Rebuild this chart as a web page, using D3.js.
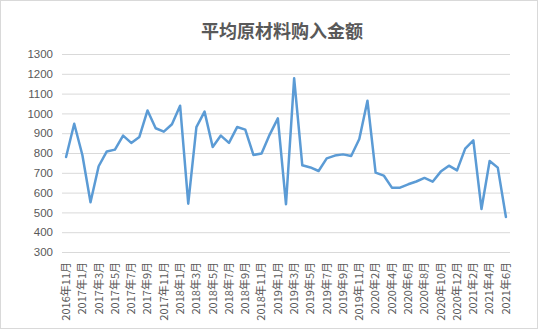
<!DOCTYPE html>
<html>
<head>
<meta charset="utf-8">
<script src="https://cdn.jsdelivr.net/npm/d3@7"></script>
<style>
  body { margin: 0; background: #fff; }
</style>
</head>
<body>
<div id="chart"></div>
<script>
// months shown on the category axis (2020年1月 is missing in the source)
const months = [
  "2016年11月", "2016年12月",
  "2017年1月", "2017年2月", "2017年3月", "2017年4月", "2017年5月", "2017年6月",
  "2017年7月", "2017年8月", "2017年9月", "2017年10月", "2017年11月", "2017年12月",
  "2018年1月", "2018年2月", "2018年3月", "2018年4月", "2018年5月", "2018年6月",
  "2018年7月", "2018年8月", "2018年9月", "2018年10月", "2018年11月", "2018年12月",
  "2019年1月", "2019年2月", "2019年3月", "2019年4月", "2019年5月", "2019年6月",
  "2019年7月", "2019年8月", "2019年9月", "2019年10月", "2019年11月", "2019年12月",
  "2020年2月", "2020年3月", "2020年4月", "2020年5月", "2020年6月", "2020年7月",
  "2020年8月", "2020年9月", "2020年10月", "2020年11月", "2020年12月",
  "2021年1月", "2021年2月", "2021年3月", "2021年4月", "2021年5月", "2021年6月"
];

const amounts = [
  780, 948,
  790, 551, 733, 808, 817, 888, 851, 881, 1015, 925, 908, 945,
  1039, 544, 931, 1009, 830, 888, 851, 931, 918, 790, 797, 893,
  975, 541, 1177, 738, 727, 709, 773, 787, 793, 785, 871, 1064,
  701, 686, 625, 625, 642, 656, 674, 655, 706, 736, 712,
  822, 864, 517, 760, 726, 477
];

const yTicks = [300, 400, 500, 600, 700, 800, 900, 1000, 1100, 1200, 1300];

const width = 538, height = 329;
const plot = {left: 62, right: 510, top: 54, bottom: 252};

const svg = d3.select("#chart").append("svg")
    .attr("width", width)
    .attr("height", height);

svg.append("rect")
    .attr("x", 0.5).attr("y", 0.5)
    .attr("width", width - 1).attr("height", height - 1)
    .attr("fill", "#fff")
    .attr("stroke", "#d9d9d9");

svg.append("text")
    .attr("x", 282)
    .attr("y", 38)
    .attr("text-anchor", "middle")
    .style("font-family", "'Noto Sans CJK SC', sans-serif")
    .style("font-size", "18px")
    .style("font-weight", "bold")
    .style("fill", "#595959")
    .text("平均原材料购入金额");

const x = d3.scaleBand()
    .domain(months)
    .range([plot.left, plot.right]);

const y = d3.scaleLinear()
    .domain([300, 1300])
    .range([plot.bottom, plot.top]);

// gridlines + y labels
const yAxis = d3.axisLeft(y)
    .tickValues(yTicks)
    .tickSize(-(plot.right - plot.left))
    .tickPadding(9)
    .tickFormat(d3.format("d"));

const gy = svg.append("g")
    .attr("transform", `translate(${plot.left},0)`)
    .call(yAxis);
gy.select(".domain").remove();
gy.selectAll(".tick line").attr("stroke", "#d9d9d9");
gy.selectAll(".tick text")
    .style("font-family", "'Liberation Sans', Arial, sans-serif")
    .style("font-size", "11.5px")
    .style("fill", "#595959");

// category labels, every second month
const xAxis = d3.axisBottom(x)
    .tickValues(months.filter((d, i) => i % 2 === 0))
    .tickSize(0);

const gx = svg.append("g")
    .attr("transform", `translate(0,${plot.bottom})`)
    .call(xAxis);
gx.select(".domain").remove();
gx.selectAll(".tick text")
    .attr("transform", "rotate(-90)")
    .attr("x", -10)
    .attr("y", 0)
    .attr("dy", "0.35em")
    .style("text-anchor", "end")
    .style("font-family", "'Noto Sans CJK SC', sans-serif")
    .style("font-size", "11px")
    .style("fill", "#595959");

const line = d3.line()
    .x((d, i) => x(months[i]) + x.bandwidth() / 2)
    .y(d => y(d));

svg.append("path")
    .datum(amounts)
    .attr("fill", "none")
    .attr("stroke", "#5b9bd5")
    .attr("stroke-width", 2.5)
    .attr("stroke-linejoin", "round")
    .attr("stroke-linecap", "round")
    .attr("d", line);
</script>
</body>
</html>
